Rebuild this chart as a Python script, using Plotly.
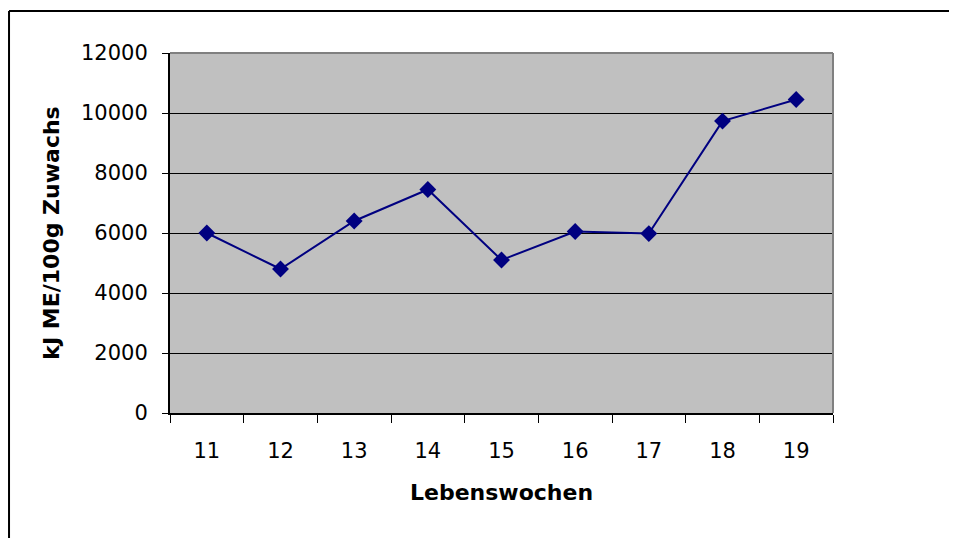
import plotly.graph_objects as go

weeks = ["11", "12", "13", "14", "15", "16", "17", "18", "19"]
energy = [6000, 4800, 6400, 7450, 5100, 6050, 5980, 9730, 10450]
y_ticks = [0, 2000, 4000, 6000, 8000, 10000, 12000]
y_tick_labels = [str(v) for v in y_ticks]

fig = go.Figure()
fig.add_trace(go.Scatter(
    x=weeks, y=energy, mode="lines+markers",
    line=dict(color="#000080", width=2),
    marker=dict(symbol="diamond", size=13, color="#000080"),
    showlegend=False, cliponaxis=False,
))

font = "DejaVu Sans, Arial, sans-serif"
fig.update_layout(
    width=949, height=530,
    margin=dict(l=162, r=124, t=45, b=125, autoexpand=False),
    paper_bgcolor="white",
    plot_bgcolor="#C0C0C0",
    font=dict(family=font, color="black", size=21),
    xaxis=dict(
        type="category", tickson="boundaries", range=[-0.5, len(weeks) - 0.5],
        showgrid=False, showline=True, linecolor="black", linewidth=2,
        ticks="outside", ticklen=8, tickcolor="black", tickwidth=1,
        tickfont=dict(size=21), ticklabelstandoff=18,
        title=dict(text="<b>Lebenswochen</b>", font=dict(size=22), standoff=22),
    ),
    yaxis=dict(
        range=[0, 12000], tickvals=y_ticks, ticktext=y_tick_labels,
        showgrid=True, gridcolor="black", gridwidth=1,
        zeroline=False, showline=True, linecolor="black", linewidth=2,
        ticks="outside", ticklen=6, tickcolor="black", tickwidth=1,
        tickfont=dict(size=21), ticklabelstandoff=10,
        title=dict(text="<b>kJ ME/100g Zuwachs</b>", font=dict(size=22), standoff=15),
    ),
    shapes=[
        dict(type="line", xref="paper", yref="paper", x0=0, x1=1, y0=1, y1=1,
             line=dict(color="#808080", width=2)),
        dict(type="line", xref="paper", yref="paper", x0=1, x1=1, y0=0, y1=1,
             line=dict(color="#808080", width=2)),
        dict(type="line", xref="paper", yref="paper", x0=-0.2428, x1=-0.2428, y0=-0.4, y1=1.1167,
             line=dict(color="black", width=2)),
        dict(type="line", xref="paper", yref="paper", x0=-0.2428, x1=1.25, y0=1.1167, y1=1.1167,
             line=dict(color="black", width=2)),
    ],
)

fig.write_html("out.html")
